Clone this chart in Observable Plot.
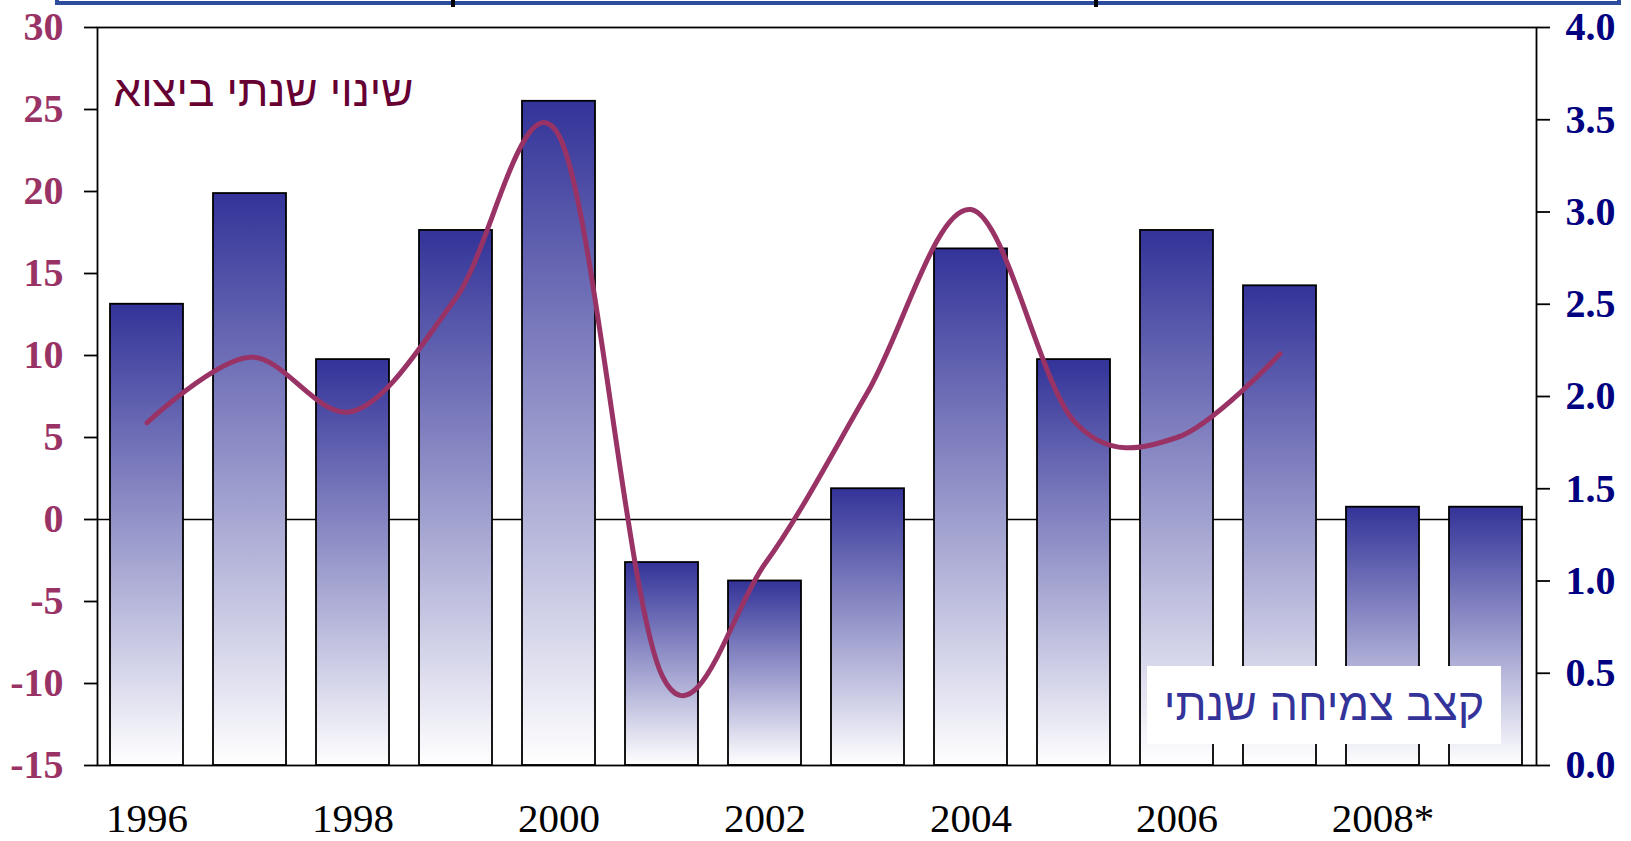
<!DOCTYPE html>
<html>
<head>
<meta charset="utf-8">
<script src="https://cdn.jsdelivr.net/npm/d3@7"></script>
<script src="https://cdn.jsdelivr.net/npm/@observablehq/plot@0.6"></script>
<style>
  html, body { margin: 0; padding: 0; background: #ffffff; }
  #wrap { position: relative; width: 1631px; height: 841px; overflow: hidden; background: #ffffff; }
  #topbox { position: absolute; left: 55px; top: -60px; width: 1566px; height: 65px; box-sizing: border-box; border: 4px solid #2c4c9e; }
  .topmark { position: absolute; top: 0; width: 4px; height: 7px; background: #000; }
  #legendbox { position: absolute; left: 1147px; top: 666px; width: 354px; height: 78px; background: #ffffff;
    display: flex; align-items: center; justify-content: center; direction: rtl;
    font-family: "Liberation Sans", Arial, sans-serif; font-size: 45px; color: #333399; }
  #chart { position: absolute; left: 0; top: 0; }
</style>
</head>
<body>
<div id="wrap">
  <div id="chart"></div>
  <div id="topbox"></div>
  <div class="topmark" style="left:451px"></div>
  <div class="topmark" style="left:1094px"></div>
  <div id="legendbox">קצב צמיחה שנתי</div>
</div>
<script>
// ---- data ----
const years = ["1996","1997","1998","1999","2000","2001","2002","2003","2004","2005","2006","2007","2008","2009"];
const growthRate = [2.5, 3.1, 2.2, 2.9, 3.6, 1.1, 1.0, 1.5, 2.8, 2.2, 2.9, 2.6, 1.4, 1.4];
const exportYears = ["1996","1997","1998","1999","2000","2001","2002","2003","2004","2005","2006","2007"];
const exportChange = [5.9, 9.9, 6.6, 13.5, 23.4, -9.5, -2.7, 7.8, 18.9, 6.0, 5.0, 10.1];
const xTickLabels = ["1996","","1998","","2000","","2002","","2004","","2006","","2008*",""];
const leftTicks = [-15, -10, -5, 0, 5, 10, 15, 20, 25, 30];
const rightTicks = [0, 0.5, 1.0, 1.5, 2.0, 2.5, 3.0, 3.5, 4.0];
const exportTitle = "שינוי שנתי ביצוא";

// right axis (0..4) mapped onto left axis (-15..30)
const LEFT_MIN = -15, LEFT_MAX = 30, RIGHT_MIN = 0, RIGHT_MAX = 4;
const toLeft = v => LEFT_MIN + (v - RIGHT_MIN) * (LEFT_MAX - LEFT_MIN) / (RIGHT_MAX - RIGHT_MIN);

const bars = years.map((year, i) => ({year, value: growthRate[i]}));
const line = exportYears.map((year, i) => ({year, value: exportChange[i]}));
const labelOf = new Map(years.map((y, i) => [y, xTickLabels[i]]));

// gradient definition mark
function gradientDefs(index, scales, values, dimensions, context) {
  const ns = "http://www.w3.org/2000/svg";
  const doc = context.document;
  const defs = doc.createElementNS(ns, "defs");
  const g = doc.createElementNS(ns, "linearGradient");
  g.setAttribute("id", "barGrad");
  g.setAttribute("x1", "0"); g.setAttribute("y1", "0");
  g.setAttribute("x2", "0"); g.setAttribute("y2", "1");
  [["0%", "#333399"], ["100%", "#ffffff"]].forEach(([o, c]) => {
    const s = doc.createElementNS(ns, "stop");
    s.setAttribute("offset", o); s.setAttribute("stop-color", c);
    g.appendChild(s);
  });
  defs.appendChild(g);
  return defs;
}

const chart = Plot.plot({
  width: 1631,
  height: 841,
  marginTop: 27,
  marginBottom: 76,
  marginLeft: 97,
  marginRight: 95,
  style: { fontFamily: "'Liberation Serif', 'Times New Roman', serif", background: "#ffffff", overflow: "visible" },
  x: { type: "band", domain: years, paddingInner: 0.29, paddingOuter: 0.127, label: null },
  y: { domain: [LEFT_MIN, LEFT_MAX], label: null },
  marks: [
    gradientDefs,
    Plot.ruleY([0], { stroke: "#000", strokeWidth: 1.5 }),
    Plot.barY(bars, {
      x: "year", y1: LEFT_MIN, y2: d => toLeft(d.value),
      fill: "url(#barGrad)", stroke: "#000", strokeWidth: 1.8, inset: 0
    }),
    Plot.line(line, {
      x: "year", y: "value", curve: "cardinal", tension: 0,
      stroke: "#993366", strokeWidth: 5, strokeLinecap: "round", strokeLinejoin: "round"
    }),
    Plot.frame({ stroke: "#000", strokeWidth: 1.8 }),
    Plot.axisY(leftTicks, {
      anchor: "left", tickSize: 13, tickPadding: 21, stroke: "#000", strokeWidth: 1.8,
      fill: "#993366", fontSize: 40, fontWeight: "bold", tickFormat: d => String(d), label: null
    }),
    Plot.axisY(rightTicks.map(toLeft), {
      anchor: "right", tickSize: 13, tickPadding: 16, stroke: "#000", strokeWidth: 1.8,
      fill: "#000080", fontSize: 40, fontWeight: "bold",
      tickFormat: d => ((d - LEFT_MIN) * (RIGHT_MAX - RIGHT_MIN) / (LEFT_MAX - LEFT_MIN)).toFixed(1), label: null
    }),
    Plot.axisX({
      anchor: "bottom", tickSize: 0, tickPadding: 37, fill: "#000", fontSize: 41,
      tickFormat: d => labelOf.get(d), label: null
    }),
    Plot.text([exportTitle], {
      frameAnchor: "top-left", dx: 16, dy: 64, textAnchor: "start", lineAnchor: "middle",
      fill: "#660033", fontSize: 44, fontFamily: "'Liberation Sans', Arial, sans-serif"
    })
  ]
});
document.getElementById("chart").appendChild(chart);
</script>
</body>
</html>
